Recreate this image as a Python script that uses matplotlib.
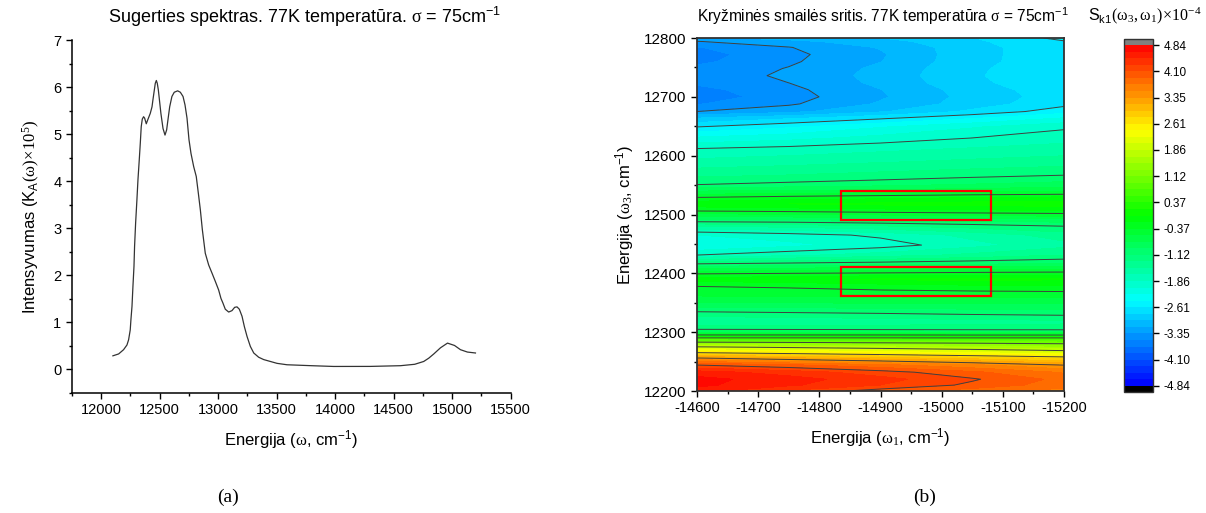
import numpy as np
import matplotlib
matplotlib.use("Agg")
import matplotlib.pyplot as plt
from matplotlib.colors import LinearSegmentedColormap
import matplotlib.patches as patches
from matplotlib.ticker import MultipleLocator

plt.rcParams['font.family'] = ['Liberation Sans', 'DejaVu Sans']
plt.rcParams['mathtext.fontset'] = 'custom'
plt.rcParams['mathtext.rm'] = 'Liberation Sans'
plt.rcParams['mathtext.it'] = 'Liberation Sans:italic'
plt.rcParams['mathtext.bf'] = 'Liberation Sans:bold'
plt.rcParams['mathtext.sf'] = 'Liberation Serif'
plt.rcParams['axes.unicode_minus'] = False

# (a) absorption spectrum
energy = [12102, 12151, 12193, 12222, 12236, 12250, 12256, 12265, 12273, 12282,
          12287, 12296, 12307, 12316, 12327, 12336, 12344, 12353, 12364, 12373,
          12387, 12399, 12421, 12436, 12444, 12456, 12464, 12473, 12481, 12490,
          12498, 12512, 12530, 12547, 12561, 12572, 12587, 12606, 12626, 12655,
          12678, 12701, 12718, 12735, 12752, 12769, 12792, 12814, 12832, 12849,
          12866, 12891, 12920, 12948, 12977, 13005, 13025, 13042, 13062, 13091,
          13119, 13142, 13162, 13182, 13205, 13225, 13248, 13276, 13305, 13347,
          13390, 13504, 13589, 13800, 13988, 14300, 14558, 14680, 14757, 14800,
          14843, 14900, 14960, 15020, 15071, 15130, 15199]
intensity = [0.29, 0.33, 0.42, 0.52, 0.63, 0.84, 1.06, 1.34, 1.76, 2.19,
             2.61, 3.11, 3.60, 4.03, 4.45, 4.81, 5.16, 5.32, 5.37, 5.34,
             5.22, 5.30, 5.44, 5.58, 5.73, 5.94, 6.08, 6.14, 6.08, 5.94,
             5.76, 5.44, 5.12, 4.98, 5.09, 5.30, 5.58, 5.80, 5.89, 5.92,
             5.89, 5.80, 5.62, 5.34, 4.88, 4.59, 4.31, 4.10, 3.74, 3.39,
             2.97, 2.47, 2.22, 2.05, 1.87, 1.69, 1.51, 1.41, 1.28, 1.22,
             1.25, 1.32, 1.33, 1.28, 1.13, 0.91, 0.70, 0.49, 0.35, 0.26,
             0.21, 0.13, 0.10, 0.08, 0.064, 0.065, 0.08, 0.11, 0.17, 0.24,
             0.33, 0.46, 0.56, 0.51, 0.42, 0.37, 0.35]

# (b) cross-peak map S_k1(w3, w1) x 1e-4, rows = w3, columns = w1
w1 = [-14600, -14750, -14900, -15050, -15200]
w3 = [12200, 12210, 12220, 12232, 12244, 12256, 12265, 12275, 12283, 12290,
      12295, 12305, 12318, 12335, 12350, 12365, 12378, 12390, 12399, 12416,
      12431, 12448, 12465, 12480, 12490, 12506, 12518, 12529, 12540, 12551,
      12567, 12590, 12612, 12630, 12649, 12663, 12675, 12688, 12700, 12712,
      12724, 12736, 12748, 12760, 12772, 12784, 12794, 12800]
s_k1 = [
    [4.55, 4.25, 4.00, 3.80, 3.65],
    [4.70, 4.50, 4.28, 4.05, 3.80],
    [4.72, 4.55, 4.35, 4.12, 3.85],
    [4.55, 4.38, 4.18, 3.95, 3.70],
    [4.10, 3.95, 3.78, 3.58, 3.35],
    [3.36, 3.20, 3.05, 2.90, 2.75],
    [2.62, 2.50, 2.38, 2.25, 2.10],
    [1.87, 1.78, 1.68, 1.57, 1.45],
    [1.12, 1.08, 1.03, 0.99, 0.95],
    [0.42, 0.42, 0.42, 0.42, 0.42],
    [-0.35, -0.35, -0.35, -0.36, -0.36],
    [-1.13, -1.15, -1.17, -1.19, -1.20],
    [-1.50, -1.46, -1.42, -1.38, -1.35],
    [-1.11, -1.08, -1.05, -1.01, -0.98],
    [-0.75, -0.74, -0.73, -0.72, -0.72],
    [-0.50, -0.49, -0.47, -0.46, -0.45],
    [-0.37, -0.34, -0.28, -0.23, -0.20],
    [-0.10, -0.05, 0.02, 0.05, 0.02],
    [-0.37, -0.33, -0.30, -0.27, -0.25],
    [-1.11, -1.05, -1.00, -0.95, -0.90],
    [-1.86, -1.72, -1.58, -1.44, -1.30],
    [-2.25, -2.10, -1.96, -1.74, -1.55],
    [-2.05, -1.95, -1.82, -1.62, -1.40],
    [-1.50, -1.43, -1.33, -1.22, -1.12],
    [-1.00, -0.98, -0.93, -0.88, -0.85],
    [-0.37, -0.33, -0.28, -0.24, -0.20],
    [-0.05, 0.00, 0.05, 0.08, 0.10],
    [-0.37, -0.30, -0.25, -0.19, -0.15],
    [-0.75, -0.72, -0.68, -0.64, -0.60],
    [-1.12, -1.06, -1.00, -0.92, -0.85],
    [-1.35, -1.30, -1.24, -1.18, -1.12],
    [-1.62, -1.57, -1.51, -1.45, -1.40],
    [-1.86, -1.80, -1.73, -1.66, -1.60],
    [-2.20, -2.11, -1.98, -1.86, -1.75],
    [-2.61, -2.45, -2.25, -2.07, -1.90],
    [-2.95, -2.80, -2.62, -2.42, -2.20],
    [-3.35, -3.22, -3.00, -2.75, -2.50],
    [-3.55, -3.38, -3.14, -2.89, -2.66],
    [-3.65, -3.43, -3.19, -2.91, -2.70],
    [-3.60, -3.40, -3.17, -2.89, -2.68],
    [-3.50, -3.35, -3.12, -2.84, -2.64],
    [-3.45, -3.32, -3.10, -2.82, -2.62],
    [-3.49, -3.34, -3.12, -2.83, -2.64],
    [-3.58, -3.38, -3.17, -2.85, -2.67],
    [-3.62, -3.40, -3.19, -2.85, -2.68],
    [-3.55, -3.36, -3.15, -2.86, -2.66],
    [-3.36, -3.22, -3.06, -2.83, -2.62],
    [-3.20, -3.10, -2.98, -2.80, -2.55],
]
s_min, s_max = -4.84, 4.84

# marked regions: (w1 start, w3 start, w1 span, w3 span)
boxes = [(-14835, 12490, -245, 50), (-14836, 12361, -244, 50)]

fig = plt.figure(figsize=(12.06, 5.13), dpi=100)

# ---- (a) ----
ax1 = fig.add_axes([71.7 / 1206, 1 - 393 / 513, 439 / 1206, 353 / 513])
ax1.plot(energy, intensity, color='#333333', lw=0.9)
ax1.set_xlim(11750, 15500)
ax1.set_ylim(-0.5, 7)
ax1.xaxis.set_major_locator(MultipleLocator(500))
ax1.xaxis.set_minor_locator(MultipleLocator(250))
ax1.yaxis.set_major_locator(MultipleLocator(1))
ax1.yaxis.set_minor_locator(MultipleLocator(0.5))
ax1.spines['top'].set_visible(False)
ax1.spines['right'].set_visible(False)
for s in ['left', 'bottom']:
    ax1.spines[s].set_linewidth(1.1)
ax1.tick_params(which='major', direction='out', length=4, width=1, labelsize=10.5)
ax1.tick_params(which='minor', direction='out', length=2.5, width=1)
ax1.set_xlabel('Energija ($\\mathsf{\\omega}$, cm$^{-1}$)', fontsize=12, labelpad=8)
ax1.set_ylabel('Intensyvumas (K$_\\mathrm{A}\\mathsf{(\\omega)\\!\\times\\!10^5)}$',
               fontsize=12, labelpad=8)
fig.text(305 / 1206, 1 - 17 / 513,
         'Sugerties spektras. 77K temperatūra. $\\mathsf{\\sigma}$ = 75cm$^{-1}$',
         ha='center', va='center', fontsize=13)

# ---- (b) ----
cmap = LinearSegmentedColormap.from_list(
    'origin_rainbow', ['#0000ff', '#00ffff', '#00ff00', '#ffff00', '#ff0000'])
cmap = cmap.with_extremes(over='#808080', under='black')
levels = np.linspace(s_min, s_max, 53)
line_levels = levels[::4]

ax2 = fig.add_axes([697 / 1206, 1 - 391 / 513, 367 / 1206, 353 / 513])
cf = ax2.contourf(w1, w3, s_k1, levels=levels, cmap=cmap, extend='both')
ax2.contour(w1, w3, s_k1, levels=line_levels, colors='#404040',
            linewidths=0.7, linestyles='solid')
for x0, y0, dx, dy in boxes:
    ax2.add_patch(patches.Rectangle((x0, y0), dx, dy, linewidth=1.6,
                                    edgecolor='red', facecolor='none'))
ax2.set_xlim(-14600, -15200)
ax2.set_ylim(12200, 12800)
ax2.xaxis.set_major_locator(MultipleLocator(100))
ax2.xaxis.set_minor_locator(MultipleLocator(50))
ax2.yaxis.set_major_locator(MultipleLocator(100))
ax2.yaxis.set_minor_locator(MultipleLocator(50))
for s in ax2.spines.values():
    s.set_linewidth(1.3)
    s.set_color('#333333')
ax2.tick_params(which='major', direction='out', length=4, width=1)
ax2.tick_params(which='minor', direction='out', length=2.5, width=1)
ax2.tick_params(axis='x', labelsize=10.5)
ax2.tick_params(axis='y', labelsize=11)
ax2.set_xlabel('Energija ($\\mathsf{\\omega_1}$, cm$^{-1}$)', fontsize=12, labelpad=8)
ax2.set_ylabel('Energija ($\\mathsf{\\omega_3}$, cm$^{-1}$)', fontsize=12, labelpad=6)
fig.text(883 / 1206, 1 - 16 / 513,
         'Kryžminės smailės sritis. 77K temperatūra $\\mathsf{\\sigma}$ = 75cm$^{-1}$',
         ha='center', va='center', fontsize=11.2)

cax = fig.add_axes([1124 / 1206, 1 - 392 / 513, 29 / 1206, 353 / 513])
cb = fig.colorbar(cf, cax=cax, ticks=line_levels, format='%.2f',
                  extendrect=True, extendfrac=0.018)
cb.outline.set_linewidth(1)
cb.outline.set_edgecolor('#333333')
cax.tick_params(direction='out', length=4, width=1, labelsize=8.5)
fig.text(1145 / 1206, 1 - 16 / 513,
         'S$_\\mathrm{k1}\\mathsf{(\\omega_3,\\omega_1)\\!\\times\\!10^{-4}}$',
         ha='center', va='center', fontsize=11.5)

fig.text(228 / 1206, 1 - 497 / 513, '(a)', ha='center', va='center',
         fontsize=14, family='Liberation Serif')
fig.text(925 / 1206, 1 - 497 / 513, '(b)', ha='center', va='center',
         fontsize=14, family='Liberation Serif')

fig.savefig('out.png', dpi=100)
